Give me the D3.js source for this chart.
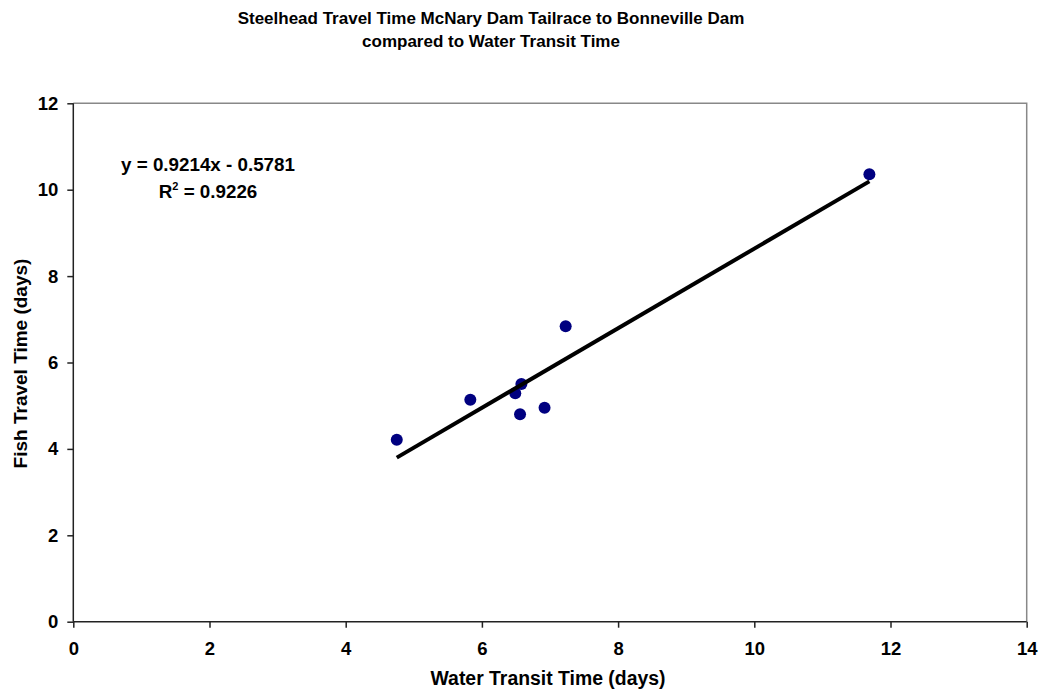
<!DOCTYPE html>
<html>
<head>
<meta charset="utf-8">
<script src="https://cdn.jsdelivr.net/npm/d3@7"></script>
<style>
  body { margin: 0; background: #fff; }
  svg { font-family: Arial, "Liberation Sans", sans-serif; font-weight: bold; }
</style>
</head>
<body>
<svg id="chart" width="1042" height="696"></svg>
<script>
// water transit time (days) vs fish travel time (days)
const waterDays = [4.75, 5.83, 6.49, 6.58, 6.56, 6.92, 7.23, 11.69];
const fishDays  = [4.21, 5.14, 5.29, 5.50, 4.80, 4.95, 6.84, 10.36];
const xTicks = [0, 2, 4, 6, 8, 10, 12, 14];
const yTicks = [0, 2, 4, 6, 8, 10, 12];
const slope = 0.9214, intercept = -0.5781;
const titleLines = ["Steelhead Travel Time McNary Dam Tailrace to Bonneville Dam", "compared to Water Transit Time"];

const svg = d3.select('#chart');
const plotL = 73.3, plotR = 1026.7, plotT = 103.3, plotB = 621.7;

const x = d3.scaleLinear().domain([0, 14]).range([plotL, plotR]);
const y = d3.scaleLinear().domain([0, 12]).range([plotB, plotT]);

// title
svg.append('text')
    .attr('x', 491).attr('y', 24)
    .attr('text-anchor', 'middle')
    .style('font-size', '17px')
    .selectAll('tspan').data(titleLines).join('tspan')
    .attr('x', 491)
    .attr('dy', (d, i) => i ? 23 : 0)
    .text(d => d);

// plot frame: top/right gray
svg.append('path')
    .attr('d', `M${plotL},${plotT}H${plotR}V${plotB}`)
    .attr('fill', 'none')
    .attr('stroke', '#888')
    .attr('stroke-width', 1.5);

// axes
const xAxis = svg.append('g')
    .attr('transform', `translate(0,${plotB})`)
    .call(d3.axisBottom(x).tickValues(xTicks).tickSize(6).tickPadding(14).tickFormat(d3.format('d')));
const yAxis = svg.append('g')
    .attr('transform', `translate(${plotL},0)`)
    .call(d3.axisLeft(y).tickValues(yTicks).tickSize(6).tickPadding(9).tickFormat(d3.format('d')));
[xAxis, yAxis].forEach(a => {
    a.selectAll('path, line').attr('stroke', '#222').attr('stroke-width', 1.5);
    a.selectAll('text').style('font-size', '18.5px').style('font-family', 'Arial, "Liberation Sans", sans-serif').style('font-weight', 'bold').attr('fill', '#000');
});
xAxis.select('.domain').attr('d', `M${plotL},0H${plotR}`);
yAxis.select('.domain').attr('d', `M0,${plotB}V${plotT}`);

// axis titles
svg.append('text')
    .attr('x', (plotL + plotR) / 2 - 2).attr('y', 685)
    .attr('text-anchor', 'middle')
    .style('font-size', '19.4px')
    .text('Water Transit Time (days)');
svg.append('text')
    .attr('transform', `translate(27,${(plotT + plotB) / 2 + 1}) rotate(-90)`)
    .attr('text-anchor', 'middle')
    .style('font-size', '19px')
    .text('Fish Travel Time (days)');

// points
svg.append('g').selectAll('circle')
    .data(waterDays.map((w, i) => [w, fishDays[i]]))
    .join('circle')
    .attr('cx', d => x(d[0]))
    .attr('cy', d => y(d[1]))
    .attr('r', 6)
    .attr('fill', '#000080');

// trend line (drawn over the markers, as in the original)
const xMin = d3.min(waterDays), xMax = d3.max(waterDays);
svg.append('line')
    .attr('x1', x(xMin)).attr('y1', y(slope * xMin + intercept))
    .attr('x2', x(xMax)).attr('y2', y(slope * xMax + intercept))
    .attr('stroke', '#000')
    .attr('stroke-width', 4);

// regression label
svg.append('text')
    .attr('x', 208).attr('y', 170.5)
    .attr('text-anchor', 'middle')
    .style('font-size', '18.8px')
    .text(`y = ${slope}x - ${Math.abs(intercept)}`);
const r2 = svg.append('text')
    .attr('x', 208).attr('y', 198)
    .attr('text-anchor', 'middle')
    .style('font-size', '18.8px');
r2.append('tspan').text('R');
r2.append('tspan').attr('dy', -8).style('font-size', '11px').text('2');
r2.append('tspan').attr('dy', 8).text(' = 0.9226');
</script>
</body>
</html>
